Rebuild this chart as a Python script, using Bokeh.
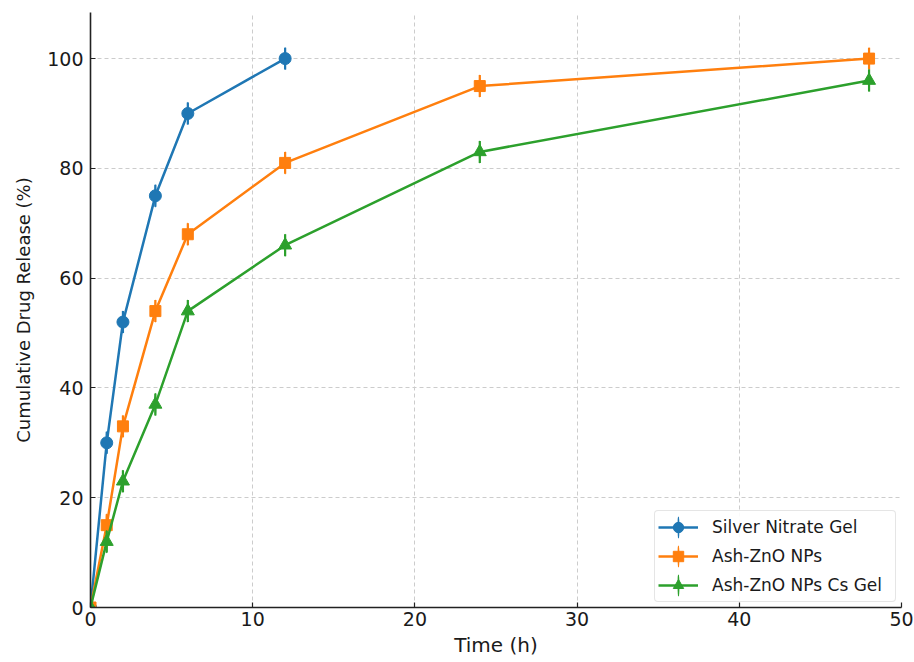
from bokeh.plotting import figure
from bokeh.models import Range1d, Legend, LegendItem, ColumnDataSource
from bokeh.embed import file_html
from bokeh.resources import INLINE

# ---- data ----
series_names = ["Silver Nitrate Gel", "Ash-ZnO NPs", "Ash-ZnO NPs Cs Gel"]
time_silver = [0, 1, 2, 4, 6, 12]
release_silver = [0, 30, 52, 75, 90, 100]
err_silver = [0, 2, 2, 2, 2, 2]
time_ash = [0, 1, 2, 4, 6, 12, 24, 48]
release_ash = [0, 15, 33, 54, 68, 81, 95, 100]
err_ash = [0, 2, 2, 2, 2, 2, 2, 2]
time_gel = [0, 1, 2, 4, 6, 12, 24, 48]
release_gel = [0, 12, 23, 37, 54, 66, 83, 96]
err_gel = [0, 2, 2, 2, 2, 2, 2, 2]
x_ticks = [0, 10, 20, 30, 40, 50]
y_ticks = [0, 20, 40, 60, 80, 100]

colors = ["#1f77b4", "#ff7f0e", "#2ca02c"]
markers = ["circle", "square", "triangle"]
sizes = [12, 11, 13]

FONT = "DejaVu Sans"
TXT = "#1a1a1a"

p = figure(width=914, height=662, output_backend="svg", toolbar_location=None,
           x_range=Range1d(0, 50), y_range=Range1d(0, 108.4),
           min_border_left=90, min_border_right=13, min_border_top=12, min_border_bottom=55)
p.outline_line_color = None
p.background_fill_color = "white"
p.border_fill_color = "white"

for ax in (p.xaxis[0], p.yaxis[0]):
    ax.axis_line_color = "#222222"
    ax.axis_line_width = 1.6
    ax.major_tick_line_color = "#222222"
    ax.major_tick_line_width = 1.2
    ax.major_tick_in = 5
    ax.major_tick_out = 0
    ax.minor_tick_line_color = None
    ax.major_label_text_font = FONT
    ax.major_label_text_font_size = "19px"
    ax.major_label_text_color = TXT
    ax.axis_label_text_font = FONT
    ax.axis_label_text_font_style = "normal"
    ax.axis_label_text_color = TXT

p.xaxis.major_label_standoff = 4
p.xaxis.axis_label_standoff = 4
p.xaxis.axis_label_text_font_size = "20px"
p.yaxis.major_label_standoff = 7
p.yaxis.axis_label_standoff = 10
p.yaxis.axis_label_text_font_size = "18px"

p.xaxis.ticker = x_ticks
p.yaxis.ticker = y_ticks
p.xaxis.axis_label = "Time (h)"
p.yaxis.axis_label = "Cumulative Drug Release (%)"

p.grid.grid_line_color = "#cccccc"
p.grid.grid_line_dash = "4 3"
p.grid.grid_line_width = 1

all_series = [
    (time_silver, release_silver, err_silver),
    (time_ash, release_ash, err_ash),
    (time_gel, release_gel, err_gel),
]

items = []
for i, (t, r, e) in enumerate(all_series):
    src = ColumnDataSource(dict(
        x=t, y=r,
        lo=[a - b for a, b in zip(r, e)],
        hi=[a + b for a, b in zip(r, e)],
        span=[2 * b for b in e],
    ))
    ln = p.line("x", "y", source=src, line_color=colors[i], line_width=2.5)
    p.segment(x0="x", y0="lo", x1="x", y1="hi", source=src,
              line_color=colors[i], line_width=2.2)
    # thin vertical ellipse spanning the error range (hidden under the error
    # bar in the plot); the legend draws it as the vertical error-bar stroke
    bar = p.ellipse("x", "y", source=src, width=0.6, width_units="screen",
                    height="span", fill_color=colors[i], line_color=colors[i],
                    line_width=1.3)
    sc = p.scatter("x", "y", source=src, marker=markers[i], size=sizes[i],
                   fill_color=colors[i], line_color=colors[i])
    items.append(LegendItem(label=series_names[i], renderers=[ln, bar, sc], index=1))

legend = Legend(items=items, location="bottom_right")
legend.label_text_font = FONT
legend.label_text_font_size = "17px"
legend.label_text_color = TXT
legend.border_line_color = "#cccccc"
legend.border_line_width = 1
legend.border_radius = 4
legend.background_fill_color = "white"
legend.background_fill_alpha = 0.9
legend.margin = 5
legend.padding = 3
legend.spacing = 3
legend.glyph_width = 40
legend.glyph_height = 26
legend.label_standoff = 14
legend.label_width = 180
p.add_layout(legend, "center")

open("out.html", "w").write(file_html(p, INLINE))
